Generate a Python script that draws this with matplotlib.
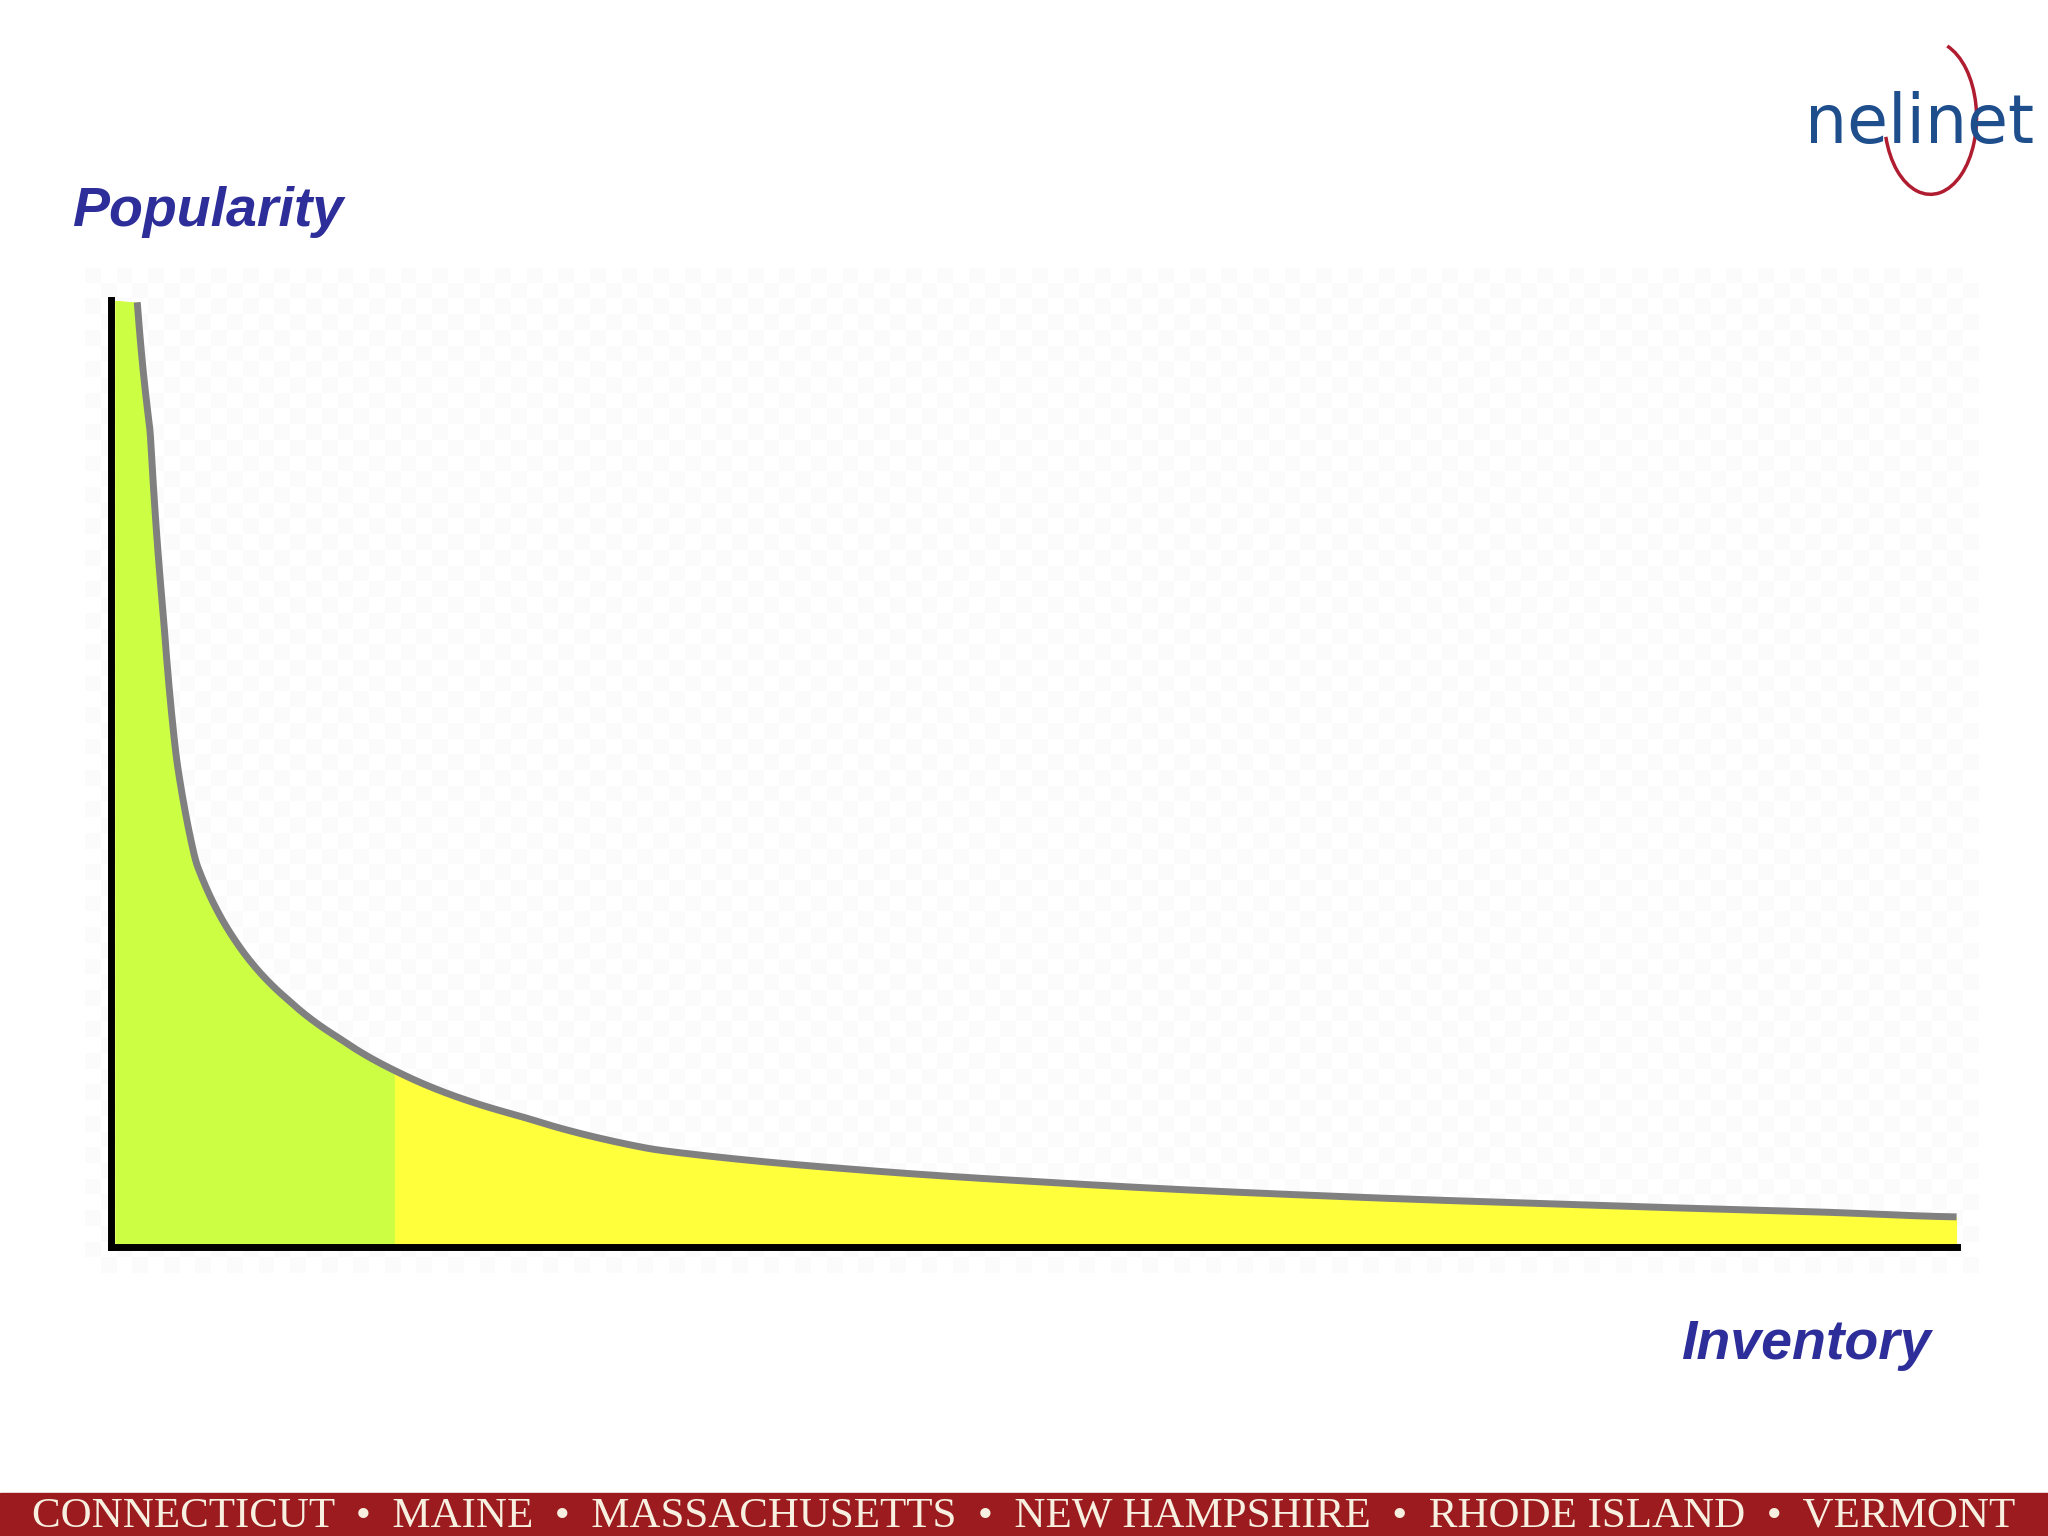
import numpy as np
import matplotlib.pyplot as plt
from matplotlib.patches import Rectangle, Arc

# long tail curve (inventory rank, popularity)
inventory = [17, 27, 37, 47, 62, 92, 132, 172, 215, 312, 412, 562, 712, 912, 1112, 1312, 1410]
popularity = [725, 625, 485, 375, 295, 235, 190, 160, 135, 100, 75, 60, 50, 40, 33, 27, 23]
head_end = 215

W, H = 1568, 1176
fig = plt.figure(figsize=(20.48, 15.36), dpi=100)

def fx(px):
    return px / W

def fy(py):
    return 1 - py / H

# checkered backdrop
bg = fig.add_axes([fx(65), fy(975), fx(1515) - fx(65), fy(205) - fy(975)])
cells = (np.add.outer(np.arange(64), np.arange(120)) % 2)
bg.imshow(cells, cmap='gray', vmin=-12, vmax=1, aspect='auto', alpha=0.2, interpolation='nearest')
bg.axis('off')

ax = fig.add_axes([fx(85), fy(955), fx(1498) - fx(85), fy(230) - fy(955)])
ax.patch.set_alpha(0)
x = np.array(inventory, dtype=float)
y = np.array(popularity, dtype=float)
xs = np.exp(np.linspace(np.log(x[0]), np.log(x[-1]), 800))
ys = np.exp(np.interp(np.log(xs), np.log(x), np.log(y)))
# light smoothing of the kinks
k = np.ones(9) / 9
ys_s = np.convolve(np.r_[np.full(4, ys[0]), ys, np.full(4, ys[-1])], k, mode='valid')
ax.fill_between(np.r_[0, xs], np.r_[725, ys_s], color='#ffff3c', lw=0)
head = xs <= head_end
ax.fill_between(np.r_[0, xs[head]], np.r_[725, ys_s[head]], color='#ccff44', lw=0)
ax.plot(xs, ys_s, color='#808080', lw=5, solid_capstyle='butt')
ax.set_xlim(-3, 1410)
ax.set_ylim(0, 725)
ax.set_xticks([])
ax.set_yticks([])
for s in ['top', 'right']:
    ax.spines[s].set_visible(False)
ax.spines['left'].set_linewidth(5)
ax.spines['bottom'].set_linewidth(5)

blue = '#2e2e9a'
fig.text(fx(55), fy(162), 'Popularity', color=blue, fontsize=40, fontweight='bold',
         style='italic', family='Liberation Sans', va='center')
fig.text(fx(1478), fy(1030), 'Inventory', color=blue, fontsize=40, fontweight='bold',
         style='italic', family='Liberation Sans', va='center', ha='right')

# logo
fig.text(fx(1470), fy(95), 'nelinet', color='#1f4e8c', fontsize=48, family='Liberation Sans Narrow',
         ha='center', va='center')
fig.add_artist(Arc((fx(1478), fy(90)), 0.045, 0.1, theta1=210, theta2=440, color='#b01c30', lw=2.5))

# footer band
fig.add_artist(Rectangle((0, 0), 1, fy(1143), color='#9b1b1f', transform=fig.transFigure))
fig.text(0.5, fy(1161), 'CONNECTICUT  •  MAINE  •  MASSACHUSETTS  •  NEW HAMPSHIRE  •  RHODE ISLAND  •  VERMONT',
         color='#f7efe0', fontsize=31, family='Liberation Serif', ha='center', va='center')

fig.savefig('out.png', dpi=100, facecolor='white')
